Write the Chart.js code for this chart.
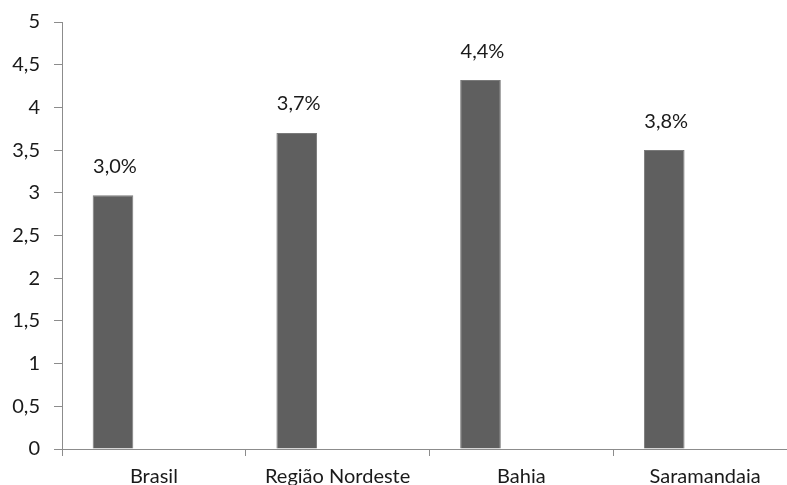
<!DOCTYPE html>
<html>
<head>
<meta charset="utf-8">
<script src="https://cdn.jsdelivr.net/npm/chart.js@4/dist/chart.umd.min.js"></script>
<style>
  html, body { margin: 0; padding: 0; background: #fff; overflow: hidden; }
  #wrap { width: 800px; height: 485px; }
</style>
</head>
<body>
<div id="wrap"><canvas id="chart"></canvas></div>
<script>
const categories = ['Brasil', 'Região Nordeste', 'Bahia', 'Saramandaia'];
const values = [2.97, 3.70, 4.32, 3.50];
const valueLabels = ['3,0%', '3,7%', '4,4%', '3,8%'];
const emptySeries = [null, null, null, null];

const FONT = 'Lato, "Open Sans", sans-serif';
const axisGray = '#8c8c8c';

const barLabels = {
    id: 'barLabels',
    afterDatasetsDraw(chart) {
        const c = chart.ctx;
        const meta = chart.getDatasetMeta(0);
        c.save();
        c.font = '20px ' + FONT;
        c.fillStyle = '#1a1a1a';
        c.textAlign = 'center';
        c.textBaseline = 'middle';
        meta.data.forEach((bar, i) => {
            c.fillText(valueLabels[i], bar.x + 2, bar.y - 29);
        });
        c.restore();
    }
};

let ctx = document.getElementById('chart').getContext('2d');
let chart = new Chart(ctx, {
    type: 'bar',
    data: {
        labels: categories,
        datasets: [{
            data: values,
            backgroundColor: '#5f5f5f',
            borderColor: '#7a7a7a',
            borderWidth: 1,
            categoryPercentage: 0.89,
            barPercentage: 0.497
        }, {
            data: emptySeries,
            backgroundColor: '#5f5f5f',
            categoryPercentage: 0.89,
            barPercentage: 0.497
        }]
    },
    options: {
        responsive: true,
        maintainAspectRatio: false,
        animation: false,
        layout: { padding: { top: 22, right: 3, left: 0, bottom: 0 } },
        plugins: {
            legend: { display: false },
            tooltip: { enabled: false }
        },
        scales: {
            x: {
                grid: { display: true, drawOnChartArea: false, tickLength: 7, color: axisGray },
                border: { color: axisGray },
                ticks: { color: '#1a1a1a', font: { family: FONT, size: 20 }, padding: 9, maxRotation: 0 },
                afterFit(scale) {
                    scale.height = 36;
                    scale.paddingLeft = 0;
                    scale.paddingRight = 0;
                }
            },
            y: {
                min: 0,
                max: 5,
                grid: { display: true, drawOnChartArea: false, tickLength: 8, color: axisGray },
                border: { color: axisGray },
                ticks: {
                    stepSize: 0.5,
                    color: '#1a1a1a',
                    padding: 14,
                    font: { family: FONT, size: 20 },
                    callback: v => String(v).replace('.', ',')
                },
                afterFit(scale) {
                    scale.width = 62;
                    scale.paddingTop = 0;
                    scale.paddingBottom = 0;
                }
            }
        }
    },
    plugins: [barLabels]
});
</script>
</body>
</html>
